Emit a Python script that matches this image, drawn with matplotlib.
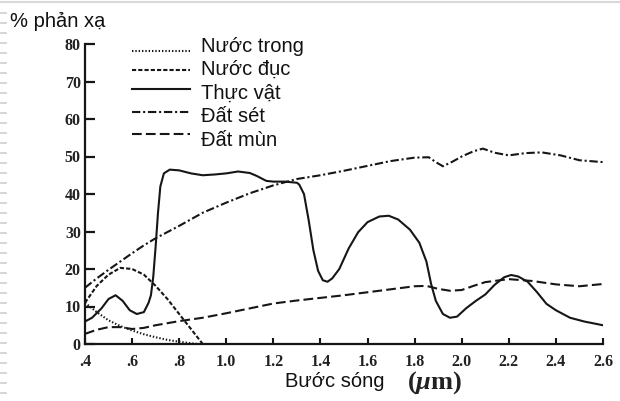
import matplotlib
matplotlib.use("Agg")
import matplotlib.pyplot as plt
from matplotlib.lines import Line2D

# reflectance curves (wavelength in um, % reflectance)
nuoc_trong_x = [0.40, 0.45, 0.50, 0.55, 0.60, 0.65, 0.70, 0.75, 0.80, 0.85, 0.88]
nuoc_trong_y = [11.0, 8.5, 6.3, 4.8, 3.6, 2.6, 1.8, 1.1, 0.6, 0.2, 0.0]

nuoc_duc_x = [0.40, 0.45, 0.50, 0.55, 0.60, 0.65, 0.70, 0.75, 0.80, 0.85, 0.90]
nuoc_duc_y = [11.0, 15.5, 18.5, 20.3, 20.0, 18.5, 15.5, 12.0, 8.0, 4.0, 0.0]

thuc_vat_x = [0.40, 0.43, 0.47, 0.50, 0.53, 0.56, 0.59, 0.62, 0.65, 0.67, 0.68,
              0.69, 0.70, 0.71, 0.72, 0.735, 0.76, 0.80, 0.85, 0.90, 0.95, 1.00,
              1.05, 1.10, 1.13, 1.17, 1.20, 1.25, 1.30, 1.31, 1.33, 1.35, 1.37,
              1.39, 1.41, 1.43, 1.45, 1.48, 1.52, 1.56, 1.60, 1.65, 1.69, 1.73,
              1.78, 1.82, 1.85, 1.87, 1.89, 1.92, 1.95, 1.98, 2.02, 2.06, 2.10,
              2.14, 2.18, 2.21, 2.24, 2.28, 2.32, 2.36, 2.40, 2.46, 2.52, 2.60]
thuc_vat_y = [6.0, 7.0, 9.5, 12.0, 13.0, 11.5, 9.0, 8.0, 8.5, 11.0, 13.0,
              18.0, 26.0, 35.0, 42.0, 45.5, 46.5, 46.3, 45.5, 45.0, 45.2, 45.5,
              46.0, 45.6, 44.8, 43.5, 43.3, 43.3, 43.0, 42.5, 40.0, 33.0, 25.0,
              19.5, 17.0, 16.6, 17.5, 20.0, 25.5, 29.8, 32.5, 34.0, 34.2, 33.2,
              30.5, 27.0, 22.0, 16.0, 11.5, 8.0, 7.0, 7.3, 9.6, 11.5, 13.2,
              15.8, 17.8, 18.4, 18.0, 16.6, 13.8, 10.7, 9.0, 7.0, 6.0, 5.0]

dat_set_x = [0.40, 0.45, 0.50, 0.55, 0.60, 0.65, 0.70, 0.80, 0.90, 1.00, 1.10,
             1.20, 1.30, 1.40, 1.50, 1.60, 1.70, 1.80, 1.86, 1.89, 1.92, 1.96,
             2.00, 2.05, 2.09, 2.14, 2.20, 2.27, 2.34, 2.42, 2.50, 2.60]
dat_set_y = [15.0, 17.5, 19.8, 22.0, 24.2, 26.3, 28.2, 31.5, 35.0, 37.7, 40.2,
             42.3, 44.0, 45.0, 46.2, 47.5, 48.8, 49.7, 49.8, 48.5, 47.4, 48.6,
             50.0, 51.4, 52.1, 51.0, 50.3, 50.9, 51.1, 50.3, 49.0, 48.5]

dat_mun_x = [0.40, 0.45, 0.50, 0.55, 0.60, 0.65, 0.70, 0.80, 0.90, 1.00, 1.10,
             1.20, 1.30, 1.40, 1.50, 1.60, 1.70, 1.80, 1.85, 1.90, 1.95, 2.00,
             2.05, 2.10, 2.20, 2.30, 2.40, 2.50, 2.60]
dat_mun_y = [2.7, 3.8, 4.5, 4.5, 4.0, 4.3, 5.0, 6.1, 7.0, 8.2, 9.5,
             10.8, 11.6, 12.3, 13.0, 13.8, 14.6, 15.4, 15.5, 14.7, 14.2, 14.4,
             15.5, 16.5, 17.3, 16.8, 15.9, 15.4, 16.0]

x_ticks = [0.4, 0.6, 0.8, 1.0, 1.2, 1.4, 1.6, 1.8, 2.0, 2.2, 2.4, 2.6]
x_labels = [".4", ".6", ".8", "1.0", "1.2", "1.4", "1.6", "1.8", "2.0", "2.2", "2.4", "2.6"]
y_ticks = [0, 10, 20, 30, 40, 50, 60, 70, 80]

plt.rcParams["lines.scale_dashes"] = False
plt.rcParams["mathtext.fontset"] = "custom"
plt.rcParams["mathtext.it"] = "Liberation Serif:italic:bold"
plt.rcParams["mathtext.rm"] = "Liberation Serif:bold"

W, H = 620, 401
fx = lambda px: px / W
fy = lambda py: 1 - py / H

ink = "#161616"
lw = 1.5
series = [
    ("Nước trong", nuoc_trong_x, nuoc_trong_y, (0, (1.0, 1.4))),
    ("Nước đục", nuoc_duc_x, nuoc_duc_y, (0, (3.0, 1.5))),
    ("Thực vật", thuc_vat_x, thuc_vat_y, "-"),
    ("Đất sét", dat_set_x, dat_set_y, (0, (6.0, 2.0, 1.5, 2.0))),
    ("Đất mùn", dat_mun_x, dat_mun_y, (0, (7.0, 3.0))),
]

fig = plt.figure(figsize=(6.2, 4.01), dpi=100)
ax = fig.add_axes([fx(85), fy(344), (603 - 85) / W, (344 - 44) / H])

for name, xs, ys, ls in series:
    ax.plot(xs, ys, color=ink, lw=lw, linestyle=ls)

ax.set_xlim(0.4, 2.6)
ax.set_ylim(0, 80)
ax.spines["top"].set_visible(False)
ax.spines["right"].set_visible(False)
for s in ("left", "bottom"):
    ax.spines[s].set_linewidth(1.6)
    ax.spines[s].set_color(ink)

ax.set_xticks(x_ticks)
ax.set_xticklabels(x_labels)
ax.set_yticks(y_ticks)
ax.tick_params(axis="y", direction="in", length=7, width=1.6, pad=3, color=ink)
ax.tick_params(axis="x", direction="in", length=4, width=1.5, pad=7, color=ink)
for lab in ax.get_xticklabels() + ax.get_yticklabels():
    lab.set_fontfamily("Liberation Serif")
    lab.set_fontweight("bold")
    lab.set_fontsize(11.5)
    lab.set_color("#222222")

# legend drawn by hand to sit like the original
leg_line_y = [51, 70, 89, 112, 134]
leg_text_y = [52, 75, 99, 122, 146]
for (name, xs, ys, ls), ly, ty in zip(series, leg_line_y, leg_text_y):
    fig.add_artist(Line2D([fx(132), fx(190)], [fy(ly), fy(ly)], color=ink,
                          lw=lw, linestyle=ls, transform=fig.transFigure))
    fig.text(fx(201), fy(ty), name, fontsize=14.5, family="Liberation Sans",
             va="baseline", ha="left", color="#111111")

fig.text(fx(10), fy(27), "% phản xạ", fontsize=14.5, family="Liberation Sans",
         va="baseline", ha="left", color="#111111")
fig.text(fx(285), fy(387), "Bước sóng", fontsize=14.5, family="Liberation Sans",
         va="baseline", ha="left", color="#111111")
fig.text(fx(407), fy(389), r"($\mu$m)", fontsize=19, family="Liberation Serif",
         fontweight="bold", va="baseline", ha="left", color="#222222")

# slide border decoration
fig.add_artist(Line2D([0, 1], [fy(2), fy(2)], color="#d8d8d8", lw=1.5,
                      transform=fig.transFigure))
for py in range(13, 400, 10):
    fig.add_artist(Line2D([0, fx(6)], [fy(py), fy(py)], color="#cfcfcf", lw=1.2,
                          transform=fig.transFigure))

fig.savefig("out.png", dpi=100)
